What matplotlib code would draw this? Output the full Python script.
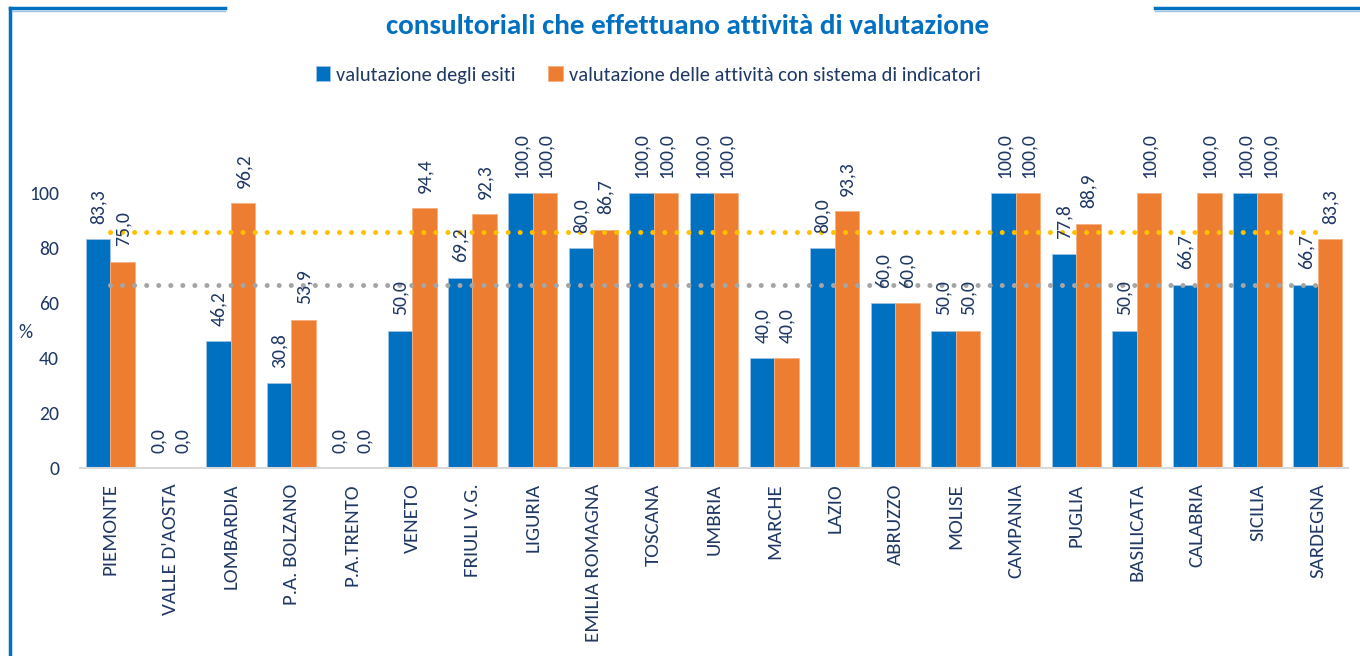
import matplotlib
matplotlib.use("Agg")
import matplotlib.pyplot as plt
from matplotlib.lines import Line2D
import numpy as np

plt.rcParams['font.family'] = ['Carlito', 'Lato', 'DejaVu Sans']

categories = ["PIEMONTE", "VALLE D'AOSTA", "LOMBARDIA", "P.A. BOLZANO", "P.A.TRENTO",
              "VENETO", "FRIULI V.G.", "LIGURIA", "EMILIA ROMAGNA", "TOSCANA", "UMBRIA",
              "MARCHE", "LAZIO", "ABRUZZO", "MOLISE", "CAMPANIA", "PUGLIA", "BASILICATA",
              "CALABRIA", "SICILIA", "SARDEGNA"]
esiti = [83.3, 0.0, 46.2, 30.8, 0.0, 50.0, 69.2, 100.0, 80.0, 100.0, 100.0,
         40.0, 80.0, 60.0, 50.0, 100.0, 77.8, 50.0, 66.7, 100.0, 66.7]
indicatori = [75.0, 0.0, 96.2, 53.9, 0.0, 94.4, 92.3, 100.0, 86.7, 100.0, 100.0,
              40.0, 93.3, 60.0, 50.0, 100.0, 88.9, 100.0, 100.0, 100.0, 83.3]
italia_indicatori = 85.8
italia_esiti = 66.7
yticks = [0, 20, 40, 60, 80, 100]
title = 'consultoriali che effettuano attività di valutazione'
legend_labels = ['valutazione degli esiti',
                 'valutazione delle attività con sistema di indicatori']

BLUE = '#0070C0'
ORANGE = '#ED7D31'
NAVY = '#1F3864'
FS = 14.2

fig = plt.figure(figsize=(13.6, 6.56), dpi=100)
renderer = fig.canvas.get_renderer()
ax = fig.add_axes([80/1360, 1-468/656, 1268/1360, 275/656])

x = np.arange(len(categories))
w = 0.405
b1 = ax.bar(x - w/2, esiti, w, color=BLUE, edgecolor='#9DC3E6', linewidth=0.6,
            label=legend_labels[0], zorder=2)
b2 = ax.bar(x + w/2, indicatori, w, color=ORANGE, edgecolor='#F4B183', linewidth=0.6,
            label=legend_labels[1], zorder=2)

def fmt(v):
    return f"{v:.1f}".replace('.', ',')

for xi, v in zip(x - w/2, esiti):
    ax.annotate(fmt(v), (xi, v), xytext=(0, 11), textcoords='offset points',
                rotation=90, ha='center', va='bottom', fontsize=FS, color=NAVY,
                annotation_clip=False, zorder=4)
for xi, v in zip(x + w/2, indicatori):
    ax.annotate(fmt(v), (xi, v), xytext=(0, 11), textcoords='offset points',
                rotation=90, ha='center', va='bottom', fontsize=FS, color=NAVY,
                annotation_clip=False, zorder=4)

dot = (0, (0.01, 2.4))
ax.plot(x, [italia_indicatori]*len(x), color='#FFC000', linewidth=3.6,
        linestyle=dot, dash_capstyle='round', zorder=3, clip_on=False)
ax.plot(x, [italia_esiti]*len(x), color='#A5A5A5', linewidth=3.6,
        linestyle=dot, dash_capstyle='round', zorder=3, clip_on=False)

ax.set_xlim(-0.5, len(x) - 0.5)
ax.set_ylim(0, 100)
ax.set_yticks(yticks)
ax.set_yticklabels([str(t) for t in yticks], fontsize=FS, color=NAVY)
ax.tick_params(axis='y', length=0, pad=15)
ax.set_xticks(x)
ax.set_xticklabels(categories, rotation=90, fontsize=15, color=NAVY, va='top', ha='center')
ax.tick_params(axis='x', length=0, pad=11)
for s in ['top', 'right', 'left']:
    ax.spines[s].set_visible(False)
ax.spines['bottom'].set_color('#D9D9D9')
ax.spines['bottom'].set_linewidth(1.5)
ax.spines['bottom'].set_zorder(5)

fig.text(25/1360, 1-333/656, '%', fontsize=FS, color=NAVY, ha='center', va='center')

t = fig.text(688/1360, 1-26/656, title, fontsize=18, fontweight='bold', color=BLUE,
             ha='center', va='center')
tw = t.get_window_extent(renderer).width
t.set_fontsize(18 * 605 / tw)

# legend size fitted to the reference text width
probe = fig.text(0, 0, legend_labels[1], fontsize=14)
lw_ = probe.get_window_extent(renderer).width
probe.remove()
lfs = 14 * 413 / lw_

fig.legend(handles=[b1, b2], loc='center', bbox_to_anchor=(648/1360, 1-75/656),
           ncol=2, frameon=False, fontsize=lfs,
           handlelength=0.7, handleheight=0.7,
           handletextpad=0.3, columnspacing=1.6, labelcolor=NAVY)

# frame
fig.add_artist(Line2D([10/1360, 10/1360], [0, 1-8/656], transform=fig.transFigure,
                      color=BLUE, linewidth=2.5))
fig.add_artist(Line2D([10/1360, 225/1360], [1-8/656, 1-8/656], transform=fig.transFigure,
                      color=BLUE, linewidth=2.5))
fig.add_artist(Line2D([1155/1360, 1], [1-8/656, 1-8/656], transform=fig.transFigure,
                      color=BLUE, linewidth=2.5))
fig.add_artist(Line2D([12/1360, 225/1360], [1-10.5/656, 1-10.5/656], transform=fig.transFigure,
                      color='#9DC3E6', linewidth=1))
fig.add_artist(Line2D([1155/1360, 1], [1-10.5/656, 1-10.5/656], transform=fig.transFigure,
                      color='#9DC3E6', linewidth=1))

fig.savefig('out.png', dpi=100)
